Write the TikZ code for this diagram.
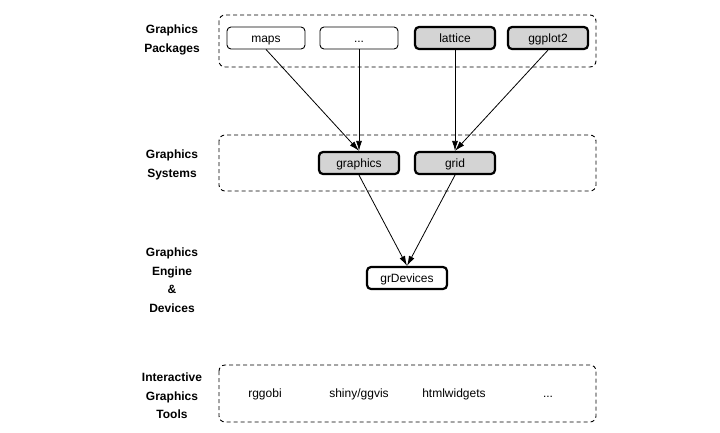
\documentclass[tikz,border=0pt]{standalone}
\usepackage{fontspec}
\setmainfont{Liberation Sans}
\usetikzlibrary{arrows.meta}
\definecolor{boxgray}{rgb}{0.83, 0.83, 0.83}

\begin{document}
\begin{tikzpicture}[x=1pt,y=-1pt,font=\fontsize{12}{14}\selectfont,
  layer/.style={draw, line width=0.9pt, dash pattern=on 4pt off 3pt, rounded corners=6pt},
  txt/.style={text height=10pt, text depth=1pt},
  pkg/.style={txt, draw, line width=0.9pt, rounded corners=4pt, minimum width=78pt, minimum height=22pt, inner sep=0pt},
  core/.style={pkg, line width=2.2pt, minimum width=80pt},
  lbl/.style={font=\bfseries\fontsize{12}{18.5}\selectfont, align=center},
  arr/.style={line width=0.8pt, -{Latex[length=10pt,width=6pt]}}]
\useasboundingbox (0,0) rectangle (720,432);
%\draw [very thin, gray] (0,0) grid[step=50] (720,432);
\draw [layer] (219,15) rectangle (596,67);
\draw [layer] (219,135) rectangle (596,191);
\draw [layer] (219,365) rectangle (596,422);
\node [lbl] (lpkg) at (172,40) {Graphics\\Packages};
\node [lbl] (lsys) at (172,165) {Graphics\\Systems};
\node [lbl] (ldev) at (172,280) {Graphics\\Engine\\\&\\Devices};
\node [lbl] (ltool) at (172,396) {Interactive\\Graphics\\Tools};
\node [pkg] (maps) at (266,38) {maps};
\node [pkg] (etc) at (359,38) {...};
\node [core, fill=boxgray] (lattice) at (455,38) {lattice};
\node [core, fill=boxgray] (ggplot) at (548,38) {ggplot2};
\node [core, fill=boxgray] (graphics) at (359,163) {graphics};
\node [core, fill=boxgray] (grid) at (455,163) {grid};
\node [core, fill=white] (grdev) at (407,278) {grDevices};
\node [txt] (rggobi) at (265,393) {rggobi};
\node [txt] (shiny) at (359,393) {shiny/ggvis};
\node [txt] (html) at (454,393) {htmlwidgets};
\node [txt] (more) at (548,393) {...};
\draw [arr] (maps.south) -- (graphics.north);
\draw [arr] (etc.south) -- (graphics.north);
\draw [arr] (lattice.south) -- (grid.north);
\draw [arr] (ggplot.south) -- (grid.north);
\draw [arr] (graphics.south) -- (grdev.north);
\draw [arr] (grid.south) -- (grdev.north);
\end{tikzpicture}
\end{document}
